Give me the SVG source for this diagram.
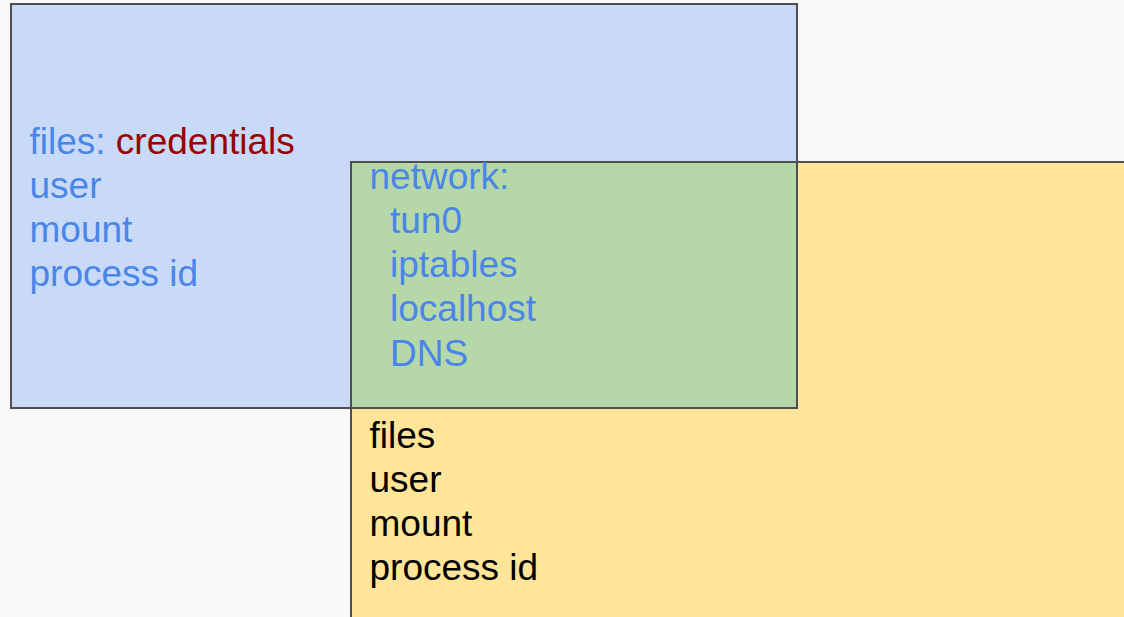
<svg xmlns="http://www.w3.org/2000/svg" width="1124" height="617" viewBox="0 0 1124 617">
  <style>
    .box { stroke: none; }
    .edge { fill: none; stroke: #4f4f4f; stroke-width: 2; }
    text { font-family: "Liberation Sans", Arial, sans-serif; font-size: 37px; }
    .blue { fill: #4a86e8; }
    .red { fill: #990000; }
    .black { fill: #000000; }
  </style>
  <rect width="1124" height="617" fill="#f9f9f9"/>

  <!-- host namespace area -->
  <g id="host">
    <rect class="box" x="11" y="4" width="786" height="404" fill="#c9daf8"/>
  </g>

  <!-- sandbox area -->
  <g id="sandbox">
    <rect class="box" x="351" y="162" width="790" height="470" fill="#ffe599"/>
  </g>

  <!-- shared part -->
  <g id="shared">
    <rect class="box" x="351" y="162" width="446" height="246" fill="#b6d7a8"/>
  </g>

  <!-- outlines -->
  <g id="outlines">
    <rect class="edge" x="11" y="4" width="786" height="404"/>
    <rect class="edge" x="351" y="162" width="790" height="470"/>
  </g>

  <g id="host-labels">
    <text x="29.5" y="154"><tspan class="blue">files: </tspan><tspan class="red">credentials</tspan></text>
    <text class="blue" x="29.5" y="198">user</text>
    <text class="blue" x="29.5" y="242">mount</text>
    <text class="blue" x="29.5" y="286">process id</text>
  </g>

  <g id="shared-labels">
    <text class="blue" x="369.5" y="189">network:</text>
    <text class="blue" x="390" y="233">tun0</text>
    <text class="blue" x="390" y="277">iptables</text>
    <text class="blue" x="390" y="321">localhost</text>
    <text class="blue" x="390" y="366">DNS</text>
  </g>

  <g id="sandbox-labels">
    <text class="black" x="369.5" y="448">files</text>
    <text class="black" x="369.5" y="492">user</text>
    <text class="black" x="369.5" y="536">mount</text>
    <text class="black" x="369.5" y="580">process id</text>
  </g>
</svg>
